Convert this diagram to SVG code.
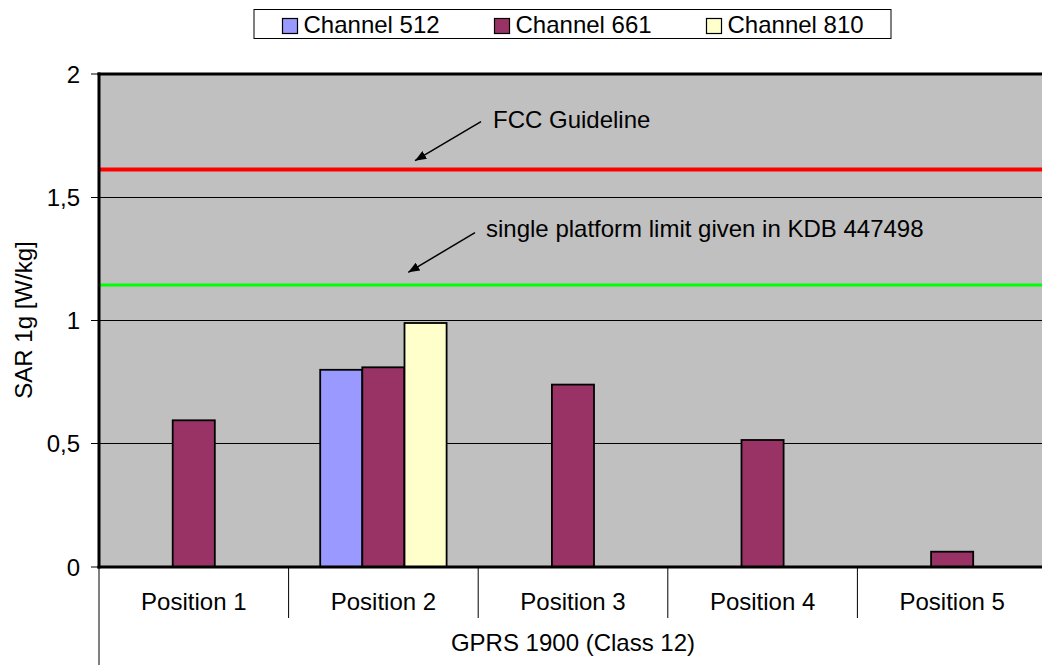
<svg xmlns="http://www.w3.org/2000/svg" width="1042" height="665" viewBox="0 0 1042 665">
<style>
text{font-family:"Liberation Sans",Arial,sans-serif;font-size:24px;fill:#000}
.tick{text-anchor:end}
.mid{text-anchor:middle}
.bar{stroke:#000;stroke-width:1.8}
.b{fill:#9999FF}.p{fill:#993366}.y{fill:#FFFFCC}
.grid{stroke:#000;stroke-width:1}
.thin{stroke:#000;stroke-width:1}
.axis{stroke:#000;stroke-width:3}
</style>
<defs>
<marker id="ah" viewBox="0 0 10 8" refX="10" refY="4" markerWidth="7.5" markerHeight="6" markerUnits="strokeWidth" orient="auto">
<path d="M0,0 L10,4 L0,8 z" fill="#000"/>
</marker>
</defs>
<rect width="1042" height="665" fill="#fff"/>
<g id="plot-area">
<rect x="99" y="74" width="943" height="493" fill="#C0C0C0"/>
<line class="grid" x1="99" y1="197.5" x2="1042" y2="197.5"/>
<line class="grid" x1="99" y1="320.5" x2="1042" y2="320.5"/>
<line class="grid" x1="99" y1="443.5" x2="1042" y2="443.5"/>
</g>
<g id="limit-lines">
<line x1="100" y1="169.5" x2="1042" y2="169.5" stroke="#FF0000" stroke-width="4"/>
<line x1="100" y1="285" x2="1042" y2="285" stroke="#00FF00" stroke-width="3"/>
</g>
<g id="bars">
<rect class="bar p" x="172.7" y="420.3" width="42.1" height="146.7"/>
<rect class="bar b" x="320.2" y="369.8" width="42.1" height="197.2"/>
<rect class="bar p" x="362.3" y="367.3" width="42.1" height="199.7"/>
<rect class="bar y" x="404.5" y="323" width="42.1" height="244"/>
<rect class="bar p" x="551.9" y="384.6" width="42.1" height="182.4"/>
<rect class="bar p" x="741.5" y="440" width="42.1" height="127"/>
<rect class="bar p" x="931.1" y="551.7" width="42.1" height="15.3"/>
</g>
<g id="axes">
<line class="axis" x1="97.5" y1="74" x2="1042" y2="74"/>
<line class="axis" x1="99" y1="72.5" x2="99" y2="568.5"/>
<line class="axis" x1="97.5" y1="567" x2="1042" y2="567"/>
<line class="thin" x1="91" y1="74" x2="99" y2="74"/>
<line class="thin" x1="91" y1="197.5" x2="99" y2="197.5"/>
<line class="thin" x1="91" y1="320.5" x2="99" y2="320.5"/>
<line class="thin" x1="91" y1="443.5" x2="99" y2="443.5"/>
<line class="thin" x1="91" y1="567" x2="99" y2="567"/>
<line class="thin" x1="99" y1="567" x2="99" y2="665"/>
<line class="thin" x1="288.6" y1="567" x2="288.6" y2="618"/>
<line class="thin" x1="478.2" y1="567" x2="478.2" y2="618"/>
<line class="thin" x1="667.8" y1="567" x2="667.8" y2="618"/>
<line class="thin" x1="857.4" y1="567" x2="857.4" y2="618"/>
</g>
<g id="y-labels">
<text class="tick" x="80" y="83">2</text>
<text class="tick" x="80" y="206">1,5</text>
<text class="tick" x="80" y="329">1</text>
<text class="tick" x="80" y="452">0,5</text>
<text class="tick" x="80" y="575.5">0</text>
<text class="mid" transform="translate(32,320) rotate(-90)">SAR 1g [W/kg]</text>
</g>
<g id="x-labels">
<text class="mid" x="193.8" y="610">Position 1</text>
<text class="mid" x="383.4" y="610">Position 2</text>
<text class="mid" x="573" y="610">Position 3</text>
<text class="mid" x="762.6" y="610">Position 4</text>
<text class="mid" x="952.2" y="610">Position 5</text>
<text class="mid" x="573" y="650.5">GPRS 1900 (Class 12)</text>
</g>
<g id="annotations">
<line x1="481" y1="121.7" x2="415" y2="160.7" stroke="#000" stroke-width="1.5" marker-end="url(#ah)"/>
<text x="493" y="128">FCC Guideline</text>
<line x1="475" y1="232.7" x2="408.3" y2="272.3" stroke="#000" stroke-width="1.5" marker-end="url(#ah)"/>
<text x="486" y="236.7">single platform limit given in KDB 447498</text>
</g>
<g id="legend">
<rect x="254" y="9.5" width="637" height="29" fill="#fff" stroke="#000" stroke-width="1"/>
<rect class="b" x="282.5" y="18.5" width="15" height="15" stroke="#000" stroke-width="1.2"/>
<text x="303.5" y="33">Channel 512</text>
<rect class="p" x="494.5" y="18.5" width="15" height="15" stroke="#000" stroke-width="1.2"/>
<text x="515.5" y="33">Channel 661</text>
<rect class="y" x="706.5" y="18.5" width="15" height="15" stroke="#000" stroke-width="1.2"/>
<text x="727.5" y="33">Channel 810</text>
</g>
</svg>
